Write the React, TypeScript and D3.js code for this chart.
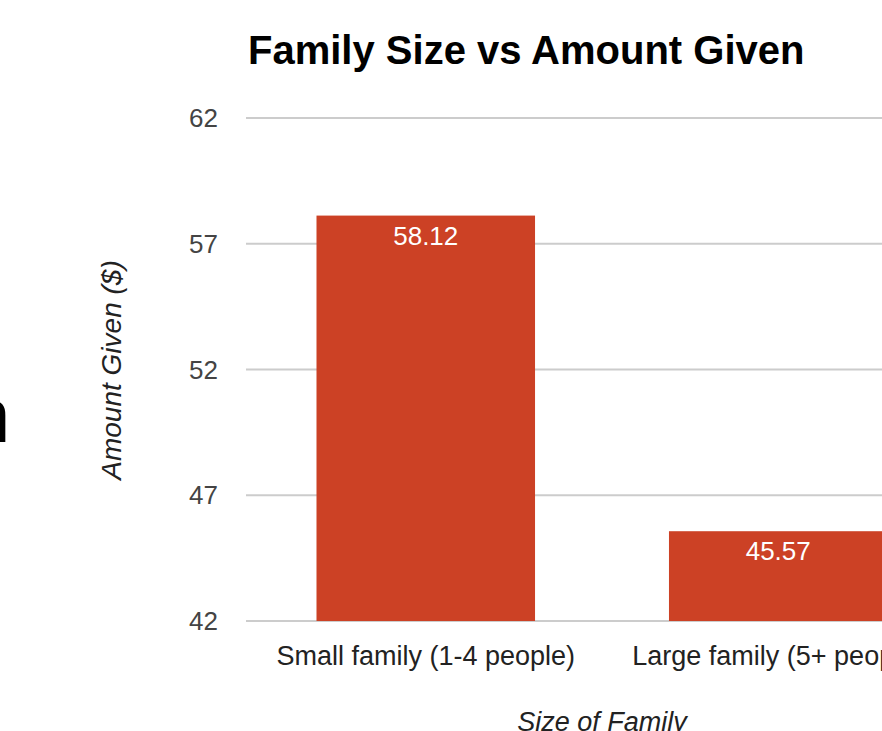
import React from "react";
import * as d3 from "d3";

const categories: string[] = ["Small family (1-4 people)", "Large family (5+ people)"];
const amounts: number[] = [58.12, 45.57];
const yTicks: number[] = [42, 47, 52, 57, 62];

const W = 882;
const H = 731;
const FONT = "'Liberation Sans', Arial, sans-serif";

export default function App() {
  const x = d3
    .scaleBand<string>()
    .domain(categories)
    .range([246, 958])
    .paddingInner(0.38)
    .paddingOuter(0.2);
  const y = d3.scaleLinear().domain([42, 62]).range([621, 118]);
  const fmt = d3.format(".2f");

  return (
    <svg
      width={W}
      height={H}
      style={{ position: "absolute", left: 0, top: 0, background: "#fff" }}
    >
      {/* cropped glyph at left edge */}
      <text x={-32} y={442} fontSize={76} fontFamily={FONT} fill="#000">
        n
      </text>

      <text
        x={248}
        y={64}
        fontSize={40}
        fontWeight="bold"
        fontFamily={FONT}
        fill="#000"
      >
        Family Size vs Amount Given
      </text>

      {yTicks.map((t) => (
        <g key={t}>
          <line x1={246} x2={W} y1={y(t)} y2={y(t)} stroke="#cccccc" strokeWidth={2} />
          <text
            x={218}
            y={y(t)}
            dy="0.35em"
            textAnchor="end"
            fontSize={26}
            fontFamily={FONT}
            fill="#444"
          >
            {t}
          </text>
        </g>
      ))}

      {categories.map((c, i) => (
        <g key={c}>
          <rect
            x={x(c)}
            y={y(amounts[i])}
            width={x.bandwidth()}
            height={y(42) - y(amounts[i])}
            fill="#cc4125"
          />
          <text
            x={(x(c) as number) + x.bandwidth() / 2}
            y={y(amounts[i]) + 29}
            textAnchor="middle"
            fontSize={26}
            fontFamily={FONT}
            fill="#fff"
          >
            {fmt(amounts[i])}
          </text>
          <text
            x={(x(c) as number) + x.bandwidth() / 2}
            y={665}
            textAnchor="middle"
            fontSize={27}
            fontFamily={FONT}
            fill="#222"
          >
            {c}
          </text>
        </g>
      ))}

      <text
        x={602}
        y={731}
        textAnchor="middle"
        fontSize={27}
        fontStyle="italic"
        fontFamily={FONT}
        fill="#222"
      >
        Size of Family
      </text>

      <text
        transform={`translate(121, 370) rotate(-90)`}
        textAnchor="middle"
        fontSize={28}
        fontStyle="italic"
        fontFamily={FONT}
        fill="#222"
      >
        Amount Given ($)
      </text>
    </svg>
  );
}
